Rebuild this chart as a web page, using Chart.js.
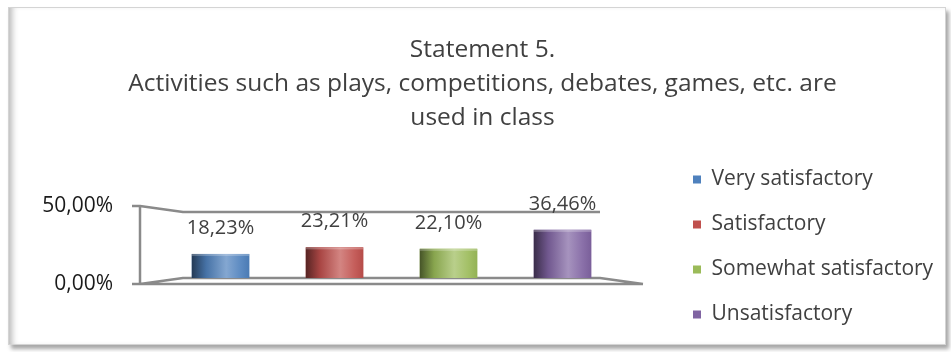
<!DOCTYPE html>
<html>
<head>
<meta charset="utf-8">
<script src="https://cdn.jsdelivr.net/npm/chart.js@4"></script>
<style>
  body { margin: 0; background: #fff; }
  #wrap { position: relative; width: 951px; height: 352px; }
  #panel {
    position: absolute; left: 8px; top: 7px; width: 936px; height: 336px;
    border: 1px solid #d4d4d4; background: #fff;
    box-shadow: inset 7px 0 6px -4px #b8b8b8, 3px 4px 4px rgba(0, 0, 0, 0.35);
  }
  canvas { position: absolute; left: 0; top: 0; }
</style>
</head>
<body>
<div id="wrap">
  <div id="panel"></div>
  <canvas id="chart" width="951" height="352"></canvas>
</div>
<script>
const titleLines = ['Statement 5.', 'Activities such as plays, competitions, debates, games, etc. are', 'used in class'];
const categories = ['Statement 5'];
const seriesNames = ['Very satisfactory', 'Satisfactory', 'Somewhat satisfactory', 'Unsatisfactory'];
const seriesValues = [18.23, 23.21, 22.10, 36.46];
const seriesColors = ['#4F81BD', '#C0504D', '#9BBB59', '#8064A2'];
const yTicks = [0, 50];

const FONT = '"Open Sans", "Noto Sans", sans-serif';
const LEGEND_SIZE = 21;
const LEGEND_PAD = 24;
const fmtPct = v => v.toFixed(2).replace('.', ',') + '%';

// mix a hex colour towards black (t<0) or white (t>0)
function shade(hex, t) {
  const n = parseInt(hex.slice(1), 16);
  const c = [(n >> 16) & 255, (n >> 8) & 255, n & 255];
  const target = t < 0 ? 0 : 255;
  const k = Math.abs(t);
  return 'rgb(' + c.map(v => Math.round(v + (target - v) * k)).join(',') + ')';
}

// gray 3D box behind the bars; its front edge carries the y tick labels
const frame3d = {
  id: 'frame3d',
  beforeDatasetsDraw(chart) {
    const { ctx, chartArea: a } = chart;
    const ys = chart.scales.y;
    const backTop = ys.getPixelForValue(ys.max);
    const backBot = ys.getPixelForValue(ys.min);
    const dx = 43, dy = 6;
    const fl = a.left - dx, fr = a.right + dx;
    ctx.save();
    ctx.strokeStyle = '#8a8a8a';
    ctx.lineWidth = 2.5;
    ctx.lineJoin = 'round';
    ctx.beginPath();
    ctx.moveTo(fl - 8, backTop - dy);
    ctx.lineTo(fl, backTop - dy);
    ctx.lineTo(a.left, backTop);
    ctx.lineTo(a.right, backTop);
    ctx.moveTo(fl, backTop - dy);
    ctx.lineTo(fl, backBot + dy);
    ctx.moveTo(fl - 8, backBot + dy);
    ctx.lineTo(fr, backBot + dy);
    ctx.moveTo(fl, backBot + dy);
    ctx.lineTo(a.left, backBot);
    ctx.lineTo(a.right, backBot);
    ctx.lineTo(fr, backBot + dy);
    ctx.stroke();

    // tick labels projected onto the front edge
    ctx.fillStyle = '#1a1a1a';
    ctx.font = '21px ' + FONT;
    ctx.textAlign = 'right';
    ctx.textBaseline = 'middle';
    ys.ticks.forEach(t => {
      const k = (t.value - ys.min) / (ys.max - ys.min);
      const py = ys.getPixelForValue(t.value) + dy * (1 - 2 * k);
      ctx.fillText(fmtPct(t.value), fl - 27, py);
    });
    ctx.restore();
  },
  afterDatasetsDraw(chart) {
    const { ctx } = chart;
    ctx.save();
    chart.data.datasets.forEach((ds, i) => {
      const bar = chart.getDatasetMeta(i).data[0];
      const { x, y, base, width } = bar.getProps(['x', 'y', 'base', 'width'], true);
      const left = x - width / 2;
      const col = seriesColors[i];
      // cylinder shading
      const g = ctx.createLinearGradient(left, 0, left + width, 0);
      g.addColorStop(0, shade(col, -0.55));
      g.addColorStop(0.25, shade(col, -0.12));
      g.addColorStop(0.6, shade(col, 0.3));
      g.addColorStop(0.85, shade(col, 0.08));
      g.addColorStop(1, shade(col, -0.05));
      ctx.fillStyle = g;
      ctx.fillRect(left, y, width, base - y);
      ctx.fillStyle = 'rgba(255,255,255,0.25)';
      ctx.fillRect(left, y, width, 2);
      // value label
      ctx.fillStyle = '#404040';
      ctx.font = '20px ' + FONT;
      ctx.textAlign = 'center';
      ctx.textBaseline = 'middle';
      ctx.fillText(fmtPct(ds.data[0]), x, y - 26);
    });
    ctx.restore();
  }
};

// legend box sits at x=693; work out the side padding that puts it there
const mctx = document.createElement('canvas').getContext('2d');
mctx.font = LEGEND_SIZE + 'px ' + FONT;
const widestLegend = Math.max(...seriesNames.map(s => mctx.measureText(s).width));
const legendWidth = LEGEND_PAD + 8 + LEGEND_SIZE / 2 + widestLegend + 10;
const padRight = Math.max(0, 951 - (693 - LEGEND_PAD) - legendWidth);
const padLeft = padRight + 14;

new Chart(document.getElementById('chart'), {
  type: 'bar',
  data: {
    labels: categories,
    datasets: seriesNames.map((name, i) => ({
      label: name,
      data: [seriesValues[i]],
      backgroundColor: seriesColors[i],
      borderWidth: 0,
      categoryPercentage: 1.0935,
      barPercentage: 0.504
    }))
  },
  options: {
    responsive: false,
    animation: false,
    layout: { padding: { top: 0, right: padRight, bottom: 3, left: padLeft } },
    plugins: {
      title: {
        display: true,
        text: titleLines,
        color: '#404040',
        font: { family: FONT, size: 24.5, weight: 'normal', lineHeight: '34px' },
        padding: { top: 33, bottom: 10 }
      },
      legend: {
        position: 'right',
        align: 'end',
        maxWidth: 400,
        labels: {
          color: '#404040',
          font: { family: FONT, size: LEGEND_SIZE },
          boxWidth: 8,
          boxHeight: 8,
          padding: LEGEND_PAD
        }
      },
      tooltip: { enabled: false }
    },
    scales: {
      x: {
        position: 'top',
        grid: { display: false },
        border: { display: false },
        ticks: { display: false },
        afterFit: s => { s.height = 67; }
      },
      xb: {
        type: 'linear',
        position: 'bottom',
        grid: { display: false },
        border: { display: false },
        ticks: { display: false },
        afterFit: s => { s.height = 71; }
      },
      y: {
        min: yTicks[0],
        max: yTicks[yTicks.length - 1],
        afterBuildTicks: s => { s.ticks = yTicks.map(v => ({ value: v })); },
        grid: { display: false },
        border: { display: false },
        ticks: { display: false },
        afterFit: s => { s.width = 183 - padLeft; }
      },
      yr: {
        type: 'linear',
        position: 'right',
        grid: { display: false },
        border: { display: false },
        ticks: { display: false },
        afterFit: s => { s.width = 69; }
      }
    }
  },
  plugins: [frame3d]
});
</script>
</body>
</html>
